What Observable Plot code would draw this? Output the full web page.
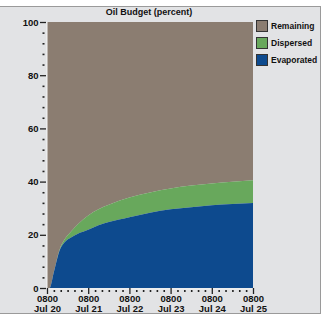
<!DOCTYPE html>
<html><head><meta charset="utf-8">
<script src="https://cdn.jsdelivr.net/npm/d3@7"></script>
<script src="https://cdn.jsdelivr.net/npm/@observablehq/plot@0.6"></script>
<style>
html,body{margin:0;padding:0;background:#fff;}
#wrap{position:relative;width:324px;height:317px;overflow:hidden;background:#fff;}
#panel{position:absolute;left:0;top:6px;width:321px;height:308px;background:#e2e3e5;border-top:1px solid #9a9a9a;border-right:1px solid #9a9a9a;border-bottom:1px solid #9a9a9a;box-sizing:border-box;}
#plot{position:absolute;left:0;top:0;}
#title{position:absolute;left:0;width:298px;top:7px;text-align:center;font:bold 9px "Liberation Sans",Arial,sans-serif;color:#111;}
.leg{position:absolute;left:256px;font:bold 8.5px "Liberation Sans",Arial,sans-serif;color:#111;display:flex;align-items:center;}
.sw{width:12px;height:12px;border:1px solid #333;box-sizing:border-box;margin-right:3px;}
</style></head>
<body>
<div id="wrap">
  <div id="panel"></div>
  <div id="plot"></div>
  <div id="title"></div>
  <div id="legend"></div>
</div>
<script>
const titleText = "Oil Budget (percent)";
const seriesNames = ["Remaining", "Dispersed", "Evaporated"];
const seriesColors = ["#8b7d71", "#68a85c", "#0d4a8e"];
// hours after Jul 20 08:00
const hours =      [0, 1.5, 4,   7.4,  10,  14,  18,  24,  30,  36,  48,  60,  72,  84,  96,  108, 120];
const evaporated = [0, 0,   6,   14.2, 17.0,19.0,20.4,21.9,23.6,24.8,26.6,28.3,29.6,30.4,31.1,31.6,32.0];
const dispersed  = [0, 0,   0.1, 0.4,  1.0, 2.2, 3.6, 5.4, 6.0, 6.5, 7.4, 7.6, 7.8, 8.1, 8.2, 8.3, 8.5];
const xTickDays = ["Jul 20","Jul 21","Jul 22","Jul 23","Jul 24","Jul 25"];
const yTicks = [0, 20, 40, 60, 80, 100];

const start = new Date(2010, 6, 20, 8, 0);
const toDate = h => new Date(start.getTime() + h * 3600e3);
const data = hours.map((h, i) => ({
  t: toDate(h),
  evap: evaporated[i],
  total: evaporated[i] + dispersed[i]
}));
const majorX = xTickDays.map((d, i) => toDate(24 * i));
const minorX = d3.range(0, 121, 4).filter(h => h % 24 !== 0).map(toDate);
const minorY = d3.range(0, 101, 4).filter(v => v % 20 !== 0);

document.getElementById("title").textContent = titleText;
const leg = document.getElementById("legend");
seriesNames.forEach((n, i) => {
  const d = document.createElement("div");
  d.className = "leg";
  d.style.top = (20 + i * 17) + "px";
  d.innerHTML = `<div class="sw" style="background:${seriesColors[i]}"></div><span>${n}</span>`;
  leg.appendChild(d);
});

const W = 324, H = 317, mL = 47, mR = 71, mT = 22, mB = 29;
const fw = W - mL - mR, fh = H - mT - mB;
const font = "bold 9px 'Liberation Sans', Arial, sans-serif";
const chart = Plot.plot({
  width: W, height: H,
  marginLeft: mL, marginRight: mR, marginTop: mT, marginBottom: mB,
  style: {background: "transparent", font: font, color: "#111", overflow: "visible"},
  x: {type: "time", domain: [toDate(0), toDate(120)], axis: null},
  y: {domain: [0, 100], axis: null},
  marks: [
    Plot.areaY(data, {x: "t", y1: "total", y2: 100, fill: seriesColors[0], curve: "monotone-x"}),
    Plot.areaY(data, {x: "t", y1: "evap", y2: "total", fill: seriesColors[1], curve: "monotone-x"}),
    Plot.areaY(data, {x: "t", y1: 0, y2: "evap", fill: seriesColors[2], curve: "monotone-x"}),
    // axis lines
    Plot.ruleX([toDate(0)], {stroke: "#f6f6f6", strokeWidth: 1, dx: -0.5}),
    Plot.ruleY([0], {stroke: "#f6f6f6", strokeWidth: 1, dy: 0.5}),
    // y ticks (short, outside the frame)
    Plot.tickY(yTicks, {y: d => d, stroke: "#222", strokeWidth: 1.3, insetLeft: -7, insetRight: fw + 1}),
    Plot.tickY(minorY, {y: d => d, stroke: "#222", strokeWidth: 1.6, insetLeft: -4.5, insetRight: fw + 2.5}),
    Plot.text(yTicks, {y: d => d, text: d => String(d), frameAnchor: "left", dx: -9, textAnchor: "end", fontSize: 9.5, fontWeight: "bold", fill: "#111"}),
    // x ticks
    Plot.tickX(majorX, {x: d => d, stroke: "#222", strokeWidth: 1.3, insetTop: fh, insetBottom: -6}),
    Plot.tickX(minorX, {x: d => d, stroke: "#222", strokeWidth: 1.6, insetTop: fh + 2, insetBottom: -4}),
    Plot.text(majorX, {x: d => d, text: () => "0800", frameAnchor: "bottom", dy: 13, fontSize: 9.5, fontWeight: "bold", fill: "#111"}),
    Plot.text(majorX, {x: d => d, text: (d, i) => xTickDays[i], frameAnchor: "bottom", dy: 23, fontSize: 9.5, fontWeight: "bold", fill: "#111"})
  ]
});
document.getElementById("plot").appendChild(chart);
</script>
</body></html>
